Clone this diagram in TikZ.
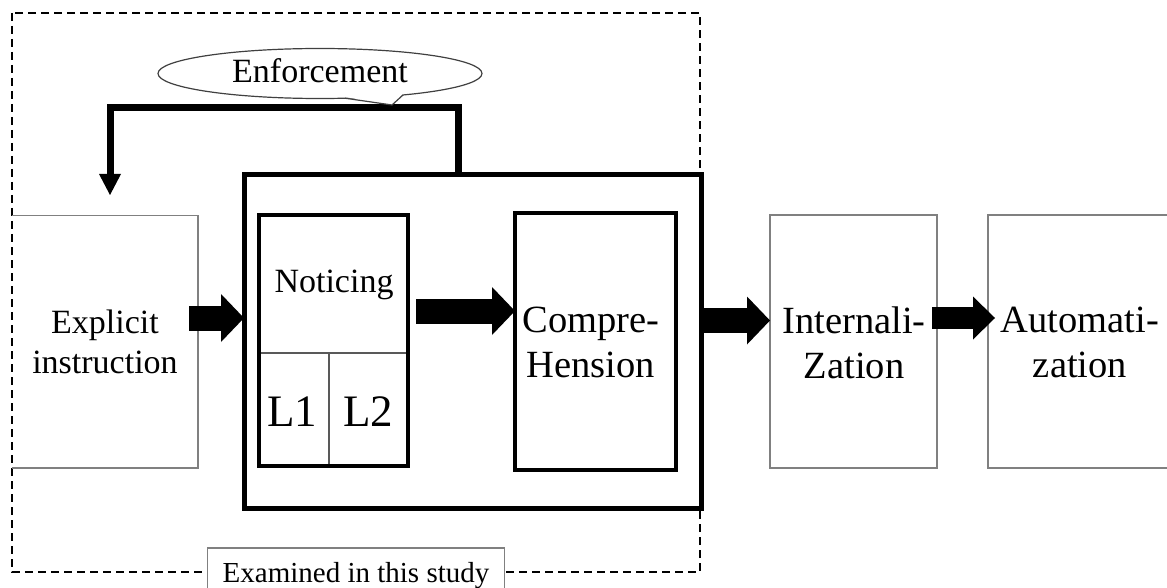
\documentclass[tikz,border=0pt]{standalone}
\usepackage{fontspec}
\setmainfont{Liberation Serif}
\usetikzlibrary{arrows.meta,shapes.geometric}
\begin{document}
\begin{tikzpicture}[x=1pt,y=-1pt,
  gline/.style={draw=black!50, line width=1.5pt},
  gbox/.style={gline, inner sep=0pt, outer sep=0pt},
  mbox/.style={draw=black, line width=3.5pt, inner sep=0pt, outer sep=0pt},
  bbox/.style={draw=black, line width=5pt, inner sep=0pt, outer sep=0pt},
  divider/.style={draw=black!65, line width=1.4pt},
  frame/.style={draw=black, line width=1.6pt, dash pattern=on 8pt off 5pt},
  txtA/.style={font=\fontsize{34}{40}\selectfont, align=center, inner sep=0pt},
  txtB/.style={font=\fontsize{38.5}{45}\selectfont, align=center, inner sep=0pt},
  txtL/.style={font=\fontsize{45}{50}\selectfont, inner sep=0pt},
  blockarrow/.style={line width=25pt, -{Triangle[length=23pt,width=48pt,line width=0pt]}},
  blockarrowsmall/.style={line width=22pt, -{Triangle[length=22pt,width=43pt,line width=0pt]}},
  fbline/.style={line width=7pt, line join=miter, -{Triangle[length=21pt,width=22pt,line width=0pt]}},
  ellline/.style={draw=black!75, line width=1.2pt},
]
\useasboundingbox (0,0) rectangle (1167,588);
\clip (0,0) rectangle (1167,588);
\fill[white] (0,0) rectangle (1167,588);

% dashed frame of the studied part
\draw[frame] (12,13) rectangle (700,572);

% outer process boxes
\node[inner sep=0pt, outer sep=0pt, minimum width=186pt, minimum height=252.3pt] (expl) at (105,341.85) {};
\draw[gline] (expl.north west) -- (expl.north east) -- (expl.south east) -- (expl.south west);
\node[gbox, minimum width=167pt, minimum height=253pt] (intern) at (853.5,341.5) {};
\node[gbox, minimum width=184pt, minimum height=253pt] (auto) at (1080,341.5) {};

% noticing box with its dividers
\node[inner sep=0pt, outer sep=0pt, minimum width=149pt, minimum height=251pt] (noticearea) at (333.5,340.5) {};
\coordinate (dv) at (329,353);
\draw[divider] (dv -| noticearea.west) -- (dv -| noticearea.east);
\draw[divider] (dv) -- (dv |- noticearea.south);
\node[mbox, minimum width=149pt, minimum height=251pt] (notice) at (333.5,340.5) {};
\node[mbox, minimum width=161pt, minimum height=257pt] (comp) at (595.5,341.5) {};
\node[bbox, minimum width=457.5pt, minimum height=334pt] (big) at (472.75,341.5) {};

% texts
\node[txtA] (expltext) at (105,341.4) {Explicit\\instruction};
\node[txtA] (noticetext) at (334,285) {Noticing};
\node[txtL] (lone) at (292,411.8) {L1};
\node[txtL] (ltwo) at (368,411.8) {L2};
\node[txtB] (comptext) at (591,342.5) {Compre-\\Hension};
\node[txtB] (interntext) at (854,342.4) {Internali-\\Zation};
\node[txtB] (autotext) at (1080,342.4) {Automati-\\zation};

% block arrows
\coordinate (aone) at (189,318);
\draw[blockarrow] (aone) -- (aone -| big.west);
\coordinate (atwo) at (416,311);
\draw[blockarrow] (atwo) -- (atwo -| comp.west);
\coordinate (athree) at (704,320.5);
\draw[blockarrow] (athree -| big.east) -- (athree -| intern.west);
\coordinate (afour) at (932,318);
\draw[blockarrowsmall] (afour) -- ([xshift=7pt]afour -| auto.west);

% feedback (enforcement) arrow
\coordinate (fbc) at (458,108);
\coordinate (fbend) at (110,195);
\draw[fbline] (big.north -| fbc) -- (fbc) -| (fbend);

% callout
\node[ellipse, ellline, fill=white, minimum width=324pt, minimum height=50pt, inner sep=0pt] (enf) at (320,73.5) {};
\fill[white] (345,97) -- (392,105) -- (403,93.8) -- cycle;
\draw[ellline] (345,98.2) -- (392,105) -- (403,95);
\node[txtA] (enftext) at (320,70.4) {Enforcement};

% label
\node[draw=black!50, line width=1.2pt, fill=white, minimum width=297pt, minimum height=56pt, inner sep=0pt,
      font=\fontsize{29}{34}\selectfont] (label) at (356,576) {Examined in this study};
\end{tikzpicture}
\end{document}
